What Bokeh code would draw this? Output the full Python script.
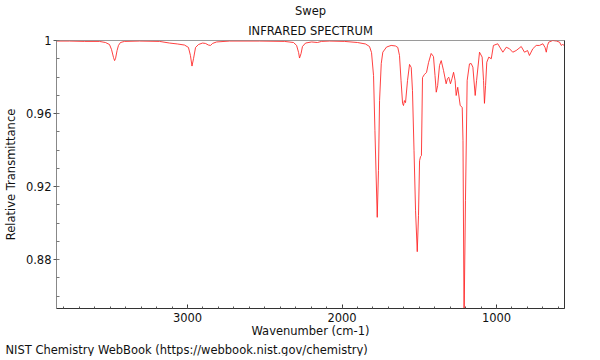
from bokeh.plotting import figure
from bokeh.models import Range1d, FixedTicker, LinearAxis, Title, CustomJSTickFormatter
from bokeh.embed import file_html
from bokeh.resources import INLINE

# Wavenumber (cm-1) and relative transmittance
wavenumber = [3848, 3764, 3667, 3570, 3531, 3505, 3492, 3479, 3472, 3466, 3456, 3447, 3434, 3408,
              3311, 3181, 3116, 3065, 3019, 2994, 2981, 2971, 2961, 2948, 2929, 2903, 2884, 2864,
              2851, 2838, 2812, 2728, 2534, 2372, 2314, 2294, 2281, 2275, 2265, 2256, 2236, 2197,
              2159, 2133, 2081, 1984, 1900, 1848, 1822, 1809, 1796, 1787, 1772, 1764, 1757, 1746,
              1736, 1712, 1682, 1654, 1639, 1628, 1618, 1608, 1602, 1596, 1589, 1576, 1563, 1552,
              1544, 1534, 1524, 1513, 1505, 1498, 1492, 1486, 1479, 1467, 1453, 1440, 1423, 1408,
              1398, 1390, 1381, 1369, 1358, 1343, 1326, 1317, 1309, 1298, 1288, 1278, 1268, 1261,
              1251, 1235, 1222, 1217, 1210, 1201, 1190, 1175, 1164, 1153, 1138, 1129, 1110, 1093,
              1084, 1078, 1071, 1063, 1050, 1034, 1020, 992, 959, 937, 916, 895, 873, 840, 819,
              799, 787, 765, 743, 722, 700, 686, 678, 670, 662, 636, 612, 592, 581, 573, 560]
transmittance = [0.9997, 0.9997, 0.9995, 0.9995, 0.9989, 0.9978, 0.9951, 0.9907, 0.9890, 0.9901,
                 0.9945, 0.9973, 0.9989, 0.9995, 0.9997, 0.9995, 0.9986, 0.9981, 0.9975, 0.9962,
                 0.9918, 0.9860, 0.9901, 0.9962, 0.9978, 0.9986, 0.9984, 0.9975, 0.9973, 0.9984,
                 0.9992, 0.9997, 0.9997, 0.9995, 0.9989, 0.9973, 0.9934, 0.9904, 0.9929, 0.9967,
                 0.9986, 0.9992, 0.9989, 0.9995, 0.9997, 0.9995, 0.9989, 0.9981, 0.9967, 0.9934,
                 0.9808, 0.9507, 0.9032, 0.9288, 0.9671, 0.9874, 0.9936, 0.9964, 0.9973, 0.9970,
                 0.9962, 0.9918, 0.9781, 0.9655, 0.9644, 0.9671, 0.9660, 0.9781, 0.9869, 0.9852,
                 0.9726, 0.9397, 0.9068, 0.8844, 0.9041, 0.9342, 0.9364, 0.9370, 0.9797, 0.9814,
                 0.9825, 0.9879, 0.9929, 0.9912, 0.9808, 0.9717, 0.9753, 0.9863, 0.9890, 0.9836,
                 0.9763, 0.9792, 0.9799, 0.9763, 0.9792, 0.9826, 0.9781, 0.9699, 0.9744, 0.9644,
                 0.9634, 0.9452, 0.8466, 0.9123, 0.9781, 0.9872, 0.9874, 0.9854, 0.9699, 0.9781,
                 0.9936, 0.9909, 0.9781, 0.9656, 0.9753, 0.9881, 0.9909, 0.9900, 0.9973, 0.9982,
                 0.9936, 0.9963, 0.9955, 0.9936, 0.9945, 0.9967, 0.9936, 0.9945, 0.9918, 0.9955,
                 0.9973, 0.9973, 0.9982, 0.9962, 0.9936, 0.9973, 0.9991, 1.0000, 0.9997, 0.9991,
                 0.9973, 0.9978, 0.9973]

x_major = [3000, 2000, 1000]
x_minor = list(range(3800, 500, -100))
y_major = [0.88, 0.92, 0.96, 1.0]
y_minor = [round(0.86 + 0.01 * i, 2) for i in range(15)]

FONT = "DejaVu Sans"
FS = "11.5px"

p = figure(width=584, height=344, output_backend="svg", toolbar_location=None,
           frame_width=508, frame_height=268,
           x_range=Range1d(3848, 560), y_range=Range1d(0.8533, 1.0),
           min_border_left=51, min_border_top=32, min_border_right=25, min_border_bottom=44)
p.title = None
p.grid.visible = False
p.outline_line_color = "#9a9a9a"
p.background_fill_color = "white"
p.border_fill_color = "white"

p.line(wavenumber, transmittance, line_color="#ff2020", line_width=1, line_alpha=0.85)

xa = p.xaxis[0]
xa.ticker = FixedTicker(ticks=x_major, minor_ticks=x_minor)
xa.axis_label = "Wavenumber (cm-1)"
xa.axis_line_color = "#333333"
xa.major_tick_in = 4
xa.major_tick_out = 0
xa.minor_tick_in = 2
xa.minor_tick_out = 0
xa.major_tick_line_color = "#333333"
xa.minor_tick_line_color = "#555555"
xa.major_label_standoff = 4
xa.axis_label_standoff = -1

ya = p.yaxis[0]
ya.ticker = FixedTicker(ticks=y_major, minor_ticks=y_minor)
ya.formatter = CustomJSTickFormatter(code="return String(Number(tick.toFixed(4)));")
ya.axis_label = "Relative Transmittance"
ya.axis_line_color = "#888888"
ya.major_tick_in = 2
ya.major_tick_out = 3
ya.minor_tick_in = 3
ya.minor_tick_out = 0
ya.major_tick_line_color = "#555555"
ya.minor_tick_line_color = "#777777"
ya.major_label_standoff = 2
ya.axis_label_standoff = 5

for ax in (xa, ya):
    ax.major_label_text_font = FONT
    ax.major_label_text_font_size = FS
    ax.major_label_text_color = "#111111"
    ax.axis_label_text_font = FONT
    ax.axis_label_text_font_size = FS
    ax.axis_label_text_font_style = "normal"
    ax.axis_label_text_color = "#111111"

right = LinearAxis(ticker=FixedTicker(ticks=[]), major_label_text_font_size="0px",
                   axis_line_color="#333333", major_tick_in=0, major_tick_out=0,
                   minor_tick_in=0, minor_tick_out=0)
p.add_layout(right, "right")

p.add_layout(Title(text="INFRARED SPECTRUM", align="center", text_font=FONT,
                   text_font_size=FS, text_font_style="normal", text_color="#111111",
                   standoff=6), "above")
p.add_layout(Title(text="Swep", align="center", text_font=FONT,
                   text_font_size=FS, text_font_style="normal", text_color="#111111",
                   standoff=2), "above")
p.add_layout(Title(text="NIST Chemistry WebBook (https://webbook.nist.gov/chemistry)", align="left",
                   text_font=FONT, text_font_size=FS, text_font_style="normal",
                   text_color="#111111", offset=-51, standoff=0), "below")

open("out.html", "w").write(file_html(p, INLINE))
